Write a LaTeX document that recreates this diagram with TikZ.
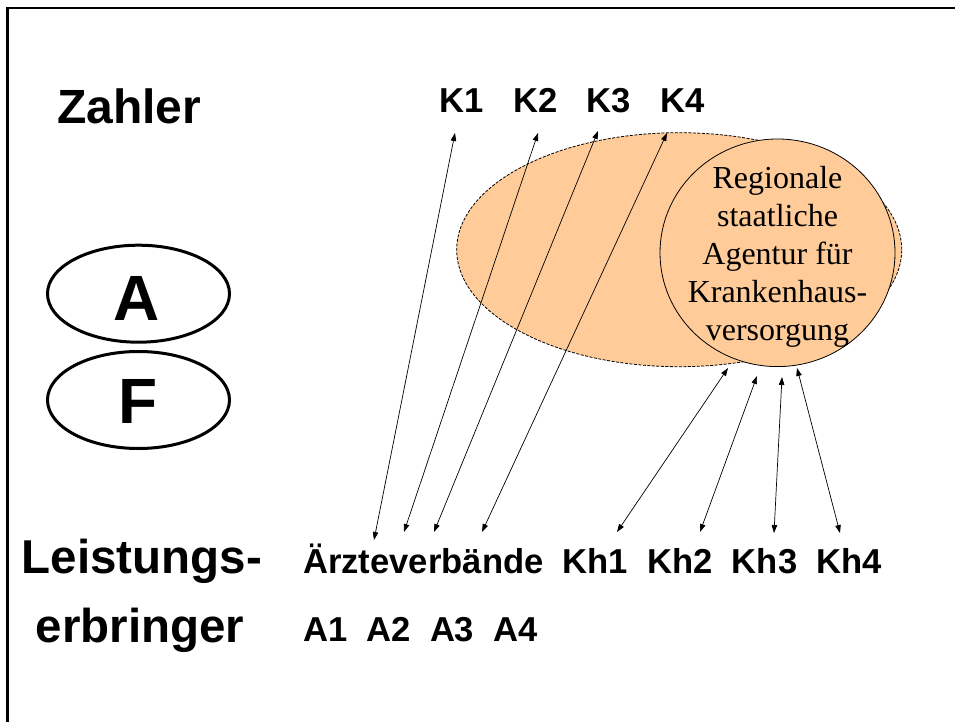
\documentclass[tikz,border=0pt]{standalone}
\usepackage{fontspec}
\setmainfont{Liberation Serif}
\newfontfamily\arialfont{Liberation Sans}
\usetikzlibrary{arrows.meta,shapes.geometric}
\definecolor{peach}{HTML}{FFCC99}
\begin{document}
\begin{tikzpicture}[x=1pt,y=-1pt,
  lbl/.style={inner sep=0pt, anchor=base west, font=\arialfont\bfseries\fontsize{34.6}{40}\selectfont},
  head/.style={inner sep=0pt, anchor=base, font=\arialfont\bfseries\fontsize{47.5}{52}\selectfont},
  letter/.style={inner sep=0pt, anchor=base, font=\arialfont\bfseries\fontsize{64}{70}\selectfont},
  oval/.style={draw, ellipse, line width=3pt, inner sep=0pt, minimum width=182pt, minimum height=97pt},
  circtext/.style={inner sep=0pt, anchor=base, font=\fontsize{32}{38}\selectfont},
  dbl/.style={{Triangle[length=8pt,width=5.5pt]}-{Triangle[length=8pt,width=5.5pt]}, line width=0.7pt},
]
\useasboundingbox (0,0) rectangle (955,722);
\clip (0,0) rectangle (955,722);
\fill[white] (0,0) rectangle (955,722);
\draw[line width=2.5pt] (7.5,8) rectangle (1000,800);

% left labels
\node[inner sep=0pt, anchor=base west, font=\arialfont\bfseries\fontsize{48}{54}\selectfont] (zahler) at (57,124) {Zahler};
\node[oval] (ovalA) at (138.5,293.7) {};
\node[oval] (ovalF) at (138.5,400) {};
\node[letter] (tA) at (136.5,320.7) {A};
\node[letter] (tF) at (138.5,423.3) {F};
\node[head] (leist) at (142,573.3) {Leistungs-};
\node[head] (erbr) at (140,642) {erbringer};

% top labels
\node[lbl] (k1) at (439.5,112.3) {K1};
\node[lbl] (k2) at (513,112.3) {K2};
\node[lbl] (k3) at (586,112.3) {K3};
\node[lbl] (k4) at (660,112.3) {K4};

% zone ellipse and agency circle
\node[draw, dash pattern=on 3pt off 1.5pt, line width=0.8pt, fill=peach, ellipse, inner sep=0pt,
      minimum width=445pt, minimum height=234pt] (zone) at (679.2,249.7) {};
\node[draw, line width=0.8pt, fill=peach, ellipse, inner sep=0pt,
      minimum width=235pt, minimum height=227.6pt] (agentur) at (777.5,252.8) {};
\node[circtext] (c1) at (777.5,188.3) {Regionale};
\node[circtext] (c2) at (777.5,226.4) {staatliche};
\node[circtext] (c3) at (777.5,264.5) {Agentur für};
\node[circtext] (c4) at (777.5,302.6) {Krankenhaus-};
\node[circtext] (c5) at (777.5,340.7) {versorgung};

% bottom labels
\node[lbl] (arzte) at (303,573) {Ärzteverbände};
\node[lbl] (kh1) at (562.5,573) {Kh1};
\node[lbl] (kh2) at (647.1,573) {Kh2};
\node[lbl] (kh3) at (731.7,573) {Kh3};
\node[lbl] (kh4) at (816.3,573) {Kh4};
\node[lbl] (a1) at (303,641) {A1};
\node[lbl] (a2) at (366.4,641) {A2};
\node[lbl] (a3) at (429.8,641) {A3};
\node[lbl] (a4) at (493.2,641) {A4};

% arrow end points
\coordinate (p1t) at (455,133);   \coordinate (p1b) at (374,540);
\coordinate (p2t) at (538,133);   \coordinate (p2b) at (404,532);
\coordinate (p3t) at (598,131);   \coordinate (p3b) at (434,532);
\coordinate (p4t) at (667,133);   \coordinate (p4b) at (482,532);
\coordinate (q1t) at (728,368);   \coordinate (q1b) at (617,532);
\coordinate (q2t) at (757,376);   \coordinate (q2b) at (700,532);
\coordinate (q3t) at (782,377);   \coordinate (q3b) at (774,533);
\coordinate (q4t) at (797,368);   \coordinate (q4b) at (840,533);

\draw[dbl] (p1t) -- (p1b);
\draw[dbl] (p2t) -- (p2b);
\draw[dbl] (p3t) -- (p3b);
\draw[dbl] (p4t) -- (p4b);
\draw[dbl] (q1t) -- (q1b);
\draw[dbl] (q2t) -- (q2b);
\draw[dbl] (q3t) -- (q3b);
\draw[dbl] (q4t) -- (q4b);
\end{tikzpicture}
\end{document}
